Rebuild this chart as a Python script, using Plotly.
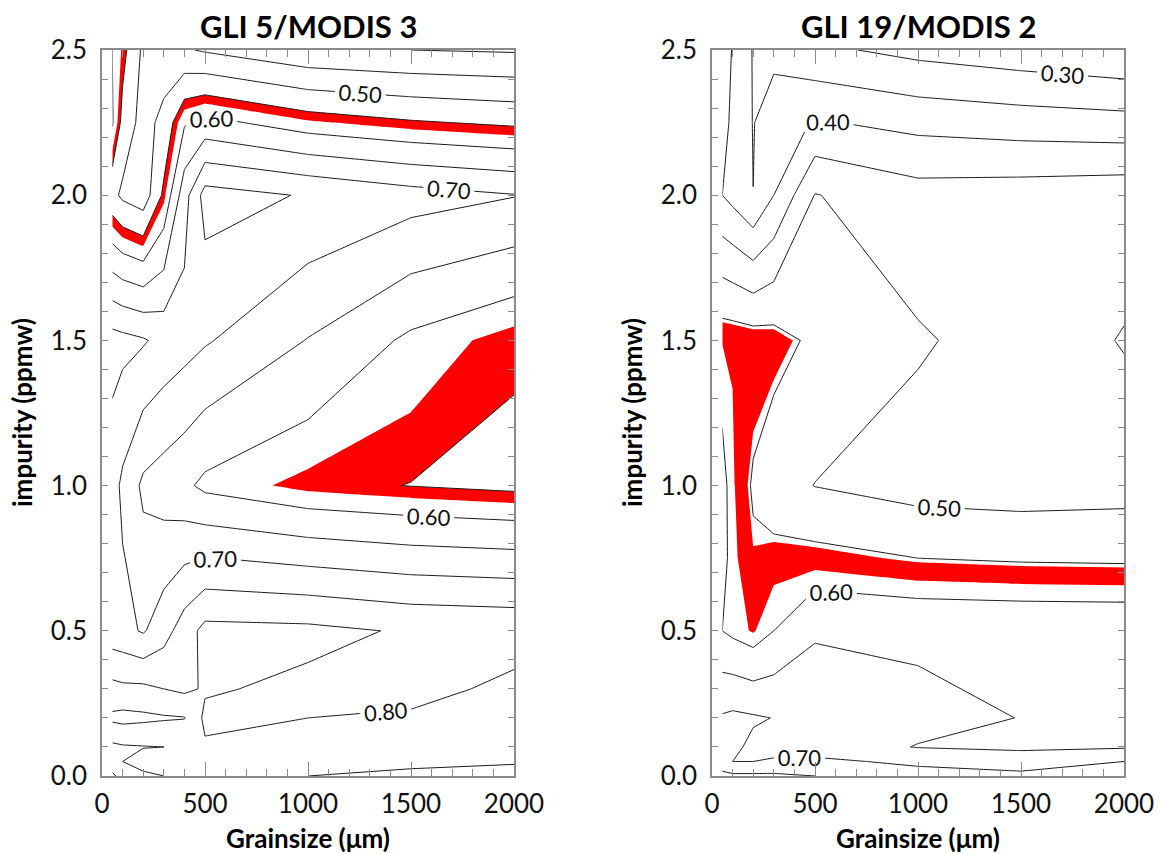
import plotly.graph_objects as go

# ---------------- data ----------------
# Left panel: GLI 5 / MODIS 3
grain_left = [50, 100, 200, 300, 400, 500, 1000, 1500, 2000]
impurity_left = [0.0, 0.05, 0.1, 0.2, 0.3, 0.5, 1.0, 1.5, 2.0, 2.25, 2.5]
ratio_left = [
    [0.74, 0.77, 0.79, 0.80, 0.81, 0.81, 0.80, 0.79, 0.78],
    [0.78, 0.80, 0.82, 0.83, 0.83, 0.83, 0.82, 0.81, 0.805],
    [0.79, 0.795, 0.798, 0.80, 0.803, 0.806, 0.815, 0.81, 0.80],
    [0.86, 0.865, 0.86, 0.855, 0.852, 0.79, 0.80, 0.803, 0.81],
    [0.815, 0.81, 0.81, 0.80, 0.79, 0.805, 0.79, 0.793, 0.805],
    [0.72, 0.715, 0.695, 0.73, 0.775, 0.815, 0.812, 0.795, 0.79],
    [0.72, 0.69, 0.64, 0.625, 0.61, 0.589, 0.56, 0.549, 0.54],
    [0.77, 0.765, 0.755, 0.735, 0.72, 0.705, 0.648, 0.5906, 0.556],
    [0.515, 0.49, 0.47, 0.56, 0.68, 0.77, 0.746, 0.72, 0.702],
    [0.605, 0.535, 0.48, 0.515, 0.595, 0.615, 0.575, 0.555, 0.542],
    [0.60, 0.565, 0.49, 0.47, 0.455, 0.445, 0.41, 0.40, 0.395],
]
match_left = [0.55, 0.57]

# Right panel: GLI 19 / MODIS 2
grain_right = [50, 100, 200, 300, 500, 1000, 1500, 2000]
impurity_right = [0.0, 0.05, 0.1, 0.2, 0.5, 0.75, 1.0, 1.5, 2.0, 2.25, 2.5]
ratio_right = [
    [0.76, 0.76, 0.76, 0.76, 0.75, 0.72, 0.71, 0.71],
    [0.73, 0.70, 0.70, 0.705, 0.71, 0.69, 0.68, 0.70],
    [0.72, 0.71, 0.69, 0.685, 0.675, 0.648, 0.64, 0.645],
    [0.705, 0.71, 0.705, 0.699, 0.68, 0.665, 0.649, 0.64],
    [0.60, 0.59, 0.575, 0.60, 0.645, 0.64, 0.638, 0.637],
    [0.615, 0.585, 0.557, 0.565, 0.565, 0.55, 0.545, 0.543],
    [0.615, 0.582, 0.545, 0.52, 0.499, 0.48, 0.475, 0.48],
    [0.577, 0.576, 0.572, 0.568, 0.54, 0.505, 0.48, 0.502],
    [0.40, 0.385, 0.3502, 0.40, 0.502, 0.47, 0.475, 0.482],
    [0.43, 0.383, 0.3485, 0.37, 0.405, 0.385, 0.375, 0.368],
    [0.44, 0.395, 0.347, 0.34, 0.31, 0.286, 0.27, 0.255],
]
match_right = [0.555, 0.578]

titles = ["GLI 5/MODIS 3", "GLI 19/MODIS 2"]
x_title = "Grainsize (\u03bcm)"
y_title = "impurity (ppmw)"
x_ticks = [0, 500, 1000, 1500, 2000]
y_ticks = [0.0, 0.5, 1.0, 1.5, 2.0, 2.5]

# ---------------- figure ----------------
W, H = 1161, 854
FONT = "Lato, 'Open Sans', Arial, sans-serif"
LINE = "#1a1a1a"
FRAME = "#8a8a8a"

fig = go.Figure()

panels = [
    (grain_left, impurity_left, ratio_left, match_left, "x", "y"),
    (grain_right, impurity_right, ratio_right, match_right, "x2", "y2"),
]

for gx, gy, gz, band, xa, ya in panels:
    # red band: region where ratio lies inside the matching interval
    # (constraint contours shade the region that fails the constraint)
    fig.add_trace(go.Contour(
        x=gx, y=gy, z=gz, xaxis=xa, yaxis=ya,
        contours=dict(type="constraint", operation="][", value=band),
        fillcolor="#ff0000", line=dict(width=0, color="#ff0000", smoothing=0),
        showscale=False, hoverinfo="skip",
    ))
    # unlabelled intermediate levels
    fig.add_trace(go.Contour(
        x=gx, y=gy, z=gz, xaxis=xa, yaxis=ya,
        contours=dict(coloring="none", start=0.35, end=0.85, size=0.1, showlabels=False),
        line=dict(color=LINE, width=1, smoothing=0),
        showscale=False, hoverinfo="skip",
    ))
    # labelled levels
    fig.add_trace(go.Contour(
        x=gx, y=gy, z=gz, xaxis=xa, yaxis=ya,
        contours=dict(coloring="none", start=0.30, end=0.80, size=0.1, showlabels=True,
                      labelformat=".2f",
                      labelfont=dict(family=FONT, size=22, color="#111111")),
        line=dict(color=LINE, width=1, smoothing=0),
        showscale=False, hoverinfo="skip",
    ))

def px_x(p):
    return p / W

def px_y(p):
    return 1 - p / H

xaxis_common = dict(
    range=[0, 2000], tickvals=x_ticks, ticks="inside", ticklen=14, tickcolor=FRAME,
    tickwidth=1, showline=True, linecolor=FRAME, linewidth=1.5, mirror="ticks",
    showgrid=False, zeroline=False, automargin=False, ticklabelstandoff=4,
    minor=dict(ticks="inside", ticklen=7, dtick=100, tickcolor=FRAME, showgrid=False),
    tickfont=dict(family=FONT, size=26, color="#111111"),
)
yaxis_common = dict(
    range=[0, 2.5], tickvals=y_ticks, tickformat=".1f", ticks="inside", ticklen=6,
    tickcolor=FRAME, tickwidth=1, showline=True, linecolor=FRAME, linewidth=1.5,
    mirror="ticks", showgrid=False, zeroline=False, automargin=False, ticklabelstandoff=8,
    minor=dict(ticks="inside", ticklen=6, dtick=0.1, tickcolor=FRAME, showgrid=False),
    tickfont=dict(family=FONT, size=26, color="#111111"),
)

fig.update_layout(
    width=W, height=H, autosize=False,
    margin=dict(l=0, r=0, t=0, b=0, pad=0),
    paper_bgcolor="white", plot_bgcolor="white",
    showlegend=False,
    xaxis=dict(domain=[px_x(102), px_x(514)], anchor="y", **xaxis_common),
    yaxis=dict(domain=[px_y(776), px_y(50)], anchor="x", **yaxis_common),
    xaxis2=dict(domain=[px_x(712), px_x(1124)], anchor="y2", **xaxis_common),
    yaxis2=dict(domain=[px_y(776), px_y(50)], anchor="x2", **yaxis_common),
)

annotations = []
for cx, t in zip([(102 + 514) / 2, (712 + 1124) / 2], titles):
    annotations.append(dict(text="<b>%s</b>" % t, x=px_x(cx), y=px_y(26), xref="paper", yref="paper",
                            showarrow=False, xanchor="center", yanchor="middle",
                            font=dict(family=FONT, size=31, color="#000000")))
    annotations.append(dict(text="<b>%s</b>" % x_title, x=px_x(cx), y=px_y(838), xref="paper", yref="paper",
                            showarrow=False, xanchor="center", yanchor="middle",
                            font=dict(family=FONT, size=26, color="#000000")))
for cx in [22, 632]:
    annotations.append(dict(text="<b>%s</b>" % y_title, x=px_x(cx), y=px_y(413), xref="paper", yref="paper",
                            showarrow=False, xanchor="center", yanchor="middle", textangle=-90,
                            font=dict(family=FONT, size=26, color="#000000")))
fig.update_layout(annotations=annotations)

fig.write_html("out.html")
